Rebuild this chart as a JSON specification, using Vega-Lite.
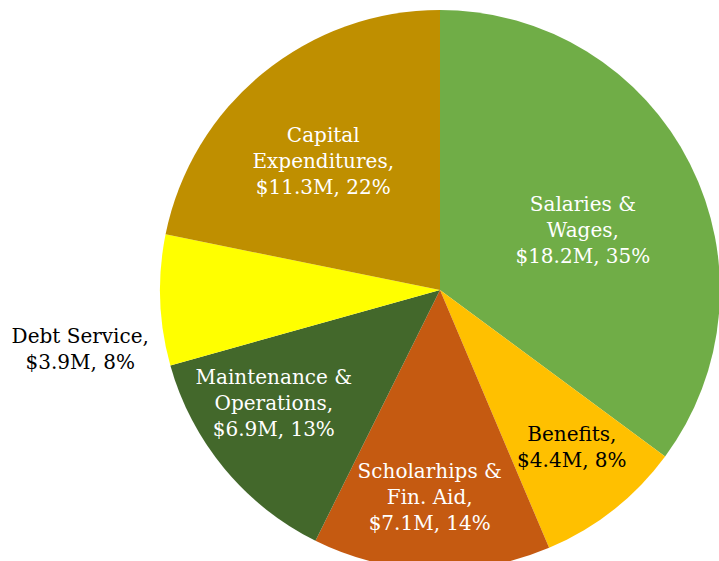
{
  "$schema": "https://vega.github.io/schema/vega-lite/v6.json",
  "autosize": "none",
  "width": 558,
  "height": 542,
  "padding": {"left": 161, "top": 19, "right": 0, "bottom": 0},
  "background": "white",
  "view": {"stroke": null},
  "config": {"text": {"font": "DejaVu Serif", "fontSize": 20, "lineHeight": 26, "lineBreak": "\n", "align": "center", "baseline": "middle"}},
  "data": {
    "values": [
      {"idx": 1, "cat": "Salaries & Wages", "value": 18.2, "label": "Salaries &\nWages,\n$18.2M, 35%"},
      {"idx": 2, "cat": "Benefits", "value": 4.4, "label": "Benefits,\n$4.4M, 8%"},
      {"idx": 3, "cat": "Scholarhips & Fin. Aid", "value": 7.1, "label": "Scholarhips &\nFin. Aid,\n$7.1M, 14%"},
      {"idx": 4, "cat": "Maintenance & Operations", "value": 6.9, "label": "Maintenance &\nOperations,\n$6.9M, 13%"},
      {"idx": 5, "cat": "Debt Service", "value": 3.9, "label": "Debt Service,\n$3.9M, 8%"},
      {"idx": 6, "cat": "Capital Expenditures", "value": 11.3, "label": "Capital\nExpenditures,\n$11.3M, 22%"}
    ]
  },
  "encoding": {
    "theta": {"field": "value", "type": "quantitative", "stack": true},
    "order": {"field": "idx", "type": "quantitative"}
  },
  "layer": [
    {
      "mark": {"type": "arc", "outerRadius": 280},
      "encoding": {
        "color": {
          "field": "cat",
          "type": "nominal",
          "legend": null,
          "scale": {
            "domain": ["Salaries & Wages", "Benefits", "Scholarhips & Fin. Aid", "Maintenance & Operations", "Debt Service", "Capital Expenditures"],
            "range": ["#70AD47", "#FFC000", "#C55A11", "#43682B", "#FFFF00", "#BF8F00"]
          }
        }
      }
    },
    {
      "mark": {"type": "text", "radius": 160, "dy": -13, "fill": "white"},
      "encoding": {"text": {"condition": {"test": "datum.cat === 'Salaries & Wages'", "field": "label"}, "value": ""}}
    },
    {
      "mark": {"type": "text", "radius": 175, "dx": -6, "dy": -19, "fill": "white"},
      "encoding": {"text": {"condition": {"test": "datum.cat === 'Capital Expenditures'", "field": "label"}, "value": ""}}
    },
    {
      "mark": {"type": "text", "radius": 205, "dx": 5, "dy": -16, "fill": "black"},
      "encoding": {"text": {"condition": {"test": "datum.cat === 'Benefits'", "field": "label"}, "value": ""}}
    },
    {
      "mark": {"type": "text", "radius": 207, "dx": -4, "dy": -25, "fill": "white"},
      "encoding": {"text": {"condition": {"test": "datum.cat === 'Scholarhips & Fin. Aid'", "field": "label"}, "value": ""}}
    },
    {
      "mark": {"type": "text", "radius": 195, "dx": -16, "dy": -36, "fill": "white"},
      "encoding": {"text": {"condition": {"test": "datum.cat === 'Maintenance & Operations'", "field": "label"}, "value": ""}}
    },
    {
      "mark": {"type": "text", "radius": 360, "dy": 34, "fill": "black"},
      "encoding": {"text": {"condition": {"test": "datum.cat === 'Debt Service'", "field": "label"}, "value": ""}}
    }
  ]
}
